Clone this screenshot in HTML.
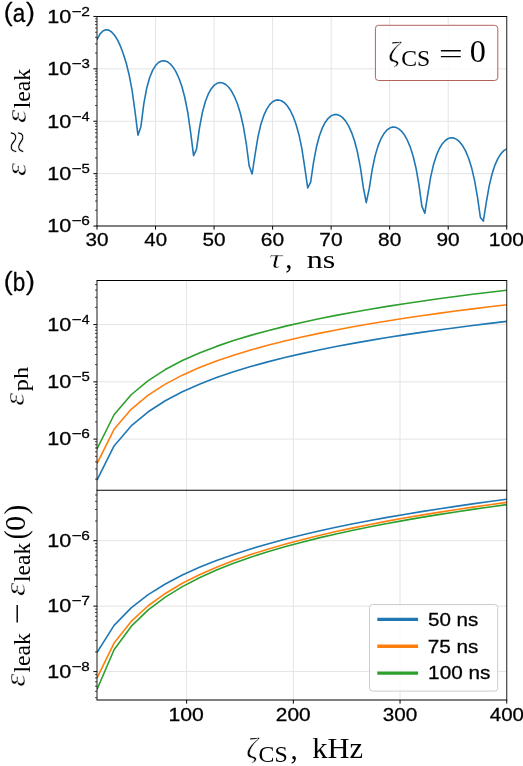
<!DOCTYPE html>
<html lang="en">
<head>
<meta charset="utf-8">
<title>Leakage and phase error figure</title>
<style>
html,body{margin:0;padding:0;background:#ffffff;}
body{width:523px;height:766px;overflow:hidden;font-family:"Liberation Sans",sans-serif;}
svg{display:block;will-change:transform;}
text{white-space:pre;}
</style>
</head>
<body>
<svg width="523" height="766" viewBox="0 0 523 766">
<rect x="0" y="0" width="523" height="766" fill="#ffffff"/>
<defs>
<clipPath id="c1"><rect x="97" y="16.45" width="409.75" height="209.6"/></clipPath>
<clipPath id="c2"><rect x="97" y="280.5" width="409.75" height="209.8"/></clipPath>
<clipPath id="c3"><rect x="97" y="490.3" width="409.75" height="209.7"/></clipPath>
</defs>
<g stroke="#e4e4e4" stroke-width="1" fill="none">
<line x1="155.54" y1="16.45" x2="155.54" y2="226.05"/>
<line x1="214.07" y1="16.45" x2="214.07" y2="226.05"/>
<line x1="272.61" y1="16.45" x2="272.61" y2="226.05"/>
<line x1="331.14" y1="16.45" x2="331.14" y2="226.05"/>
<line x1="389.68" y1="16.45" x2="389.68" y2="226.05"/>
<line x1="448.21" y1="16.45" x2="448.21" y2="226.05"/>
<line x1="97" y1="68.85" x2="506.75" y2="68.85"/>
<line x1="97" y1="121.25" x2="506.75" y2="121.25"/>
<line x1="97" y1="173.65" x2="506.75" y2="173.65"/>
<line x1="186.63" y1="280.5" x2="186.63" y2="700"/>
<line x1="293.34" y1="280.5" x2="293.34" y2="700"/>
<line x1="400.04" y1="280.5" x2="400.04" y2="700"/>
<line x1="97" y1="324.6" x2="506.75" y2="324.6"/>
<line x1="97" y1="381.85" x2="506.75" y2="381.85"/>
<line x1="97" y1="439.1" x2="506.75" y2="439.1"/>
<line x1="97" y1="540.7" x2="506.75" y2="540.7"/>
<line x1="97" y1="606.15" x2="506.75" y2="606.15"/>
<line x1="97" y1="671.6" x2="506.75" y2="671.6"/>
</g>
<g fill="none" stroke-width="1.6" stroke-linejoin="round" stroke-linecap="butt">
<polyline clip-path="url(#c1)" stroke="#1f77b4" points="97,39.7 99.93,34.16 102.85,30.97 105.78,29.69 108.71,30.1 111.63,32.03 114.56,35.26 117.49,39.87 120.41,46.04 123.34,54.04 126.27,63.29 129.19,75.08 132.12,90.58 135.05,111.67 137.97,135.2 140.9,126.67 143.83,103.62 146.76,87.95 149.68,77.49 152.61,70.36 155.54,65.56 158.46,62.54 161.39,60.98 164.32,60.71 167.24,61.66 170.17,63.8 173.1,67.19 176.02,71.94 178.95,78.28 181.88,86.58 184.8,97.5 187.73,112.22 190.66,132.61 193.58,155.7 196.51,149.21 199.44,128.04 202.36,112.5 205.29,101.74 208.22,94.17 211.14,88.89 214.07,85.37 217,83.31 219.93,82.53 222.85,82.94 225.78,84.51 228.71,87.26 231.63,91.29 234.56,96.78 237.49,104.02 240.41,113.53 243.34,126.2 246.27,143.52 249.19,165.98 252.12,174 255.05,154.59 257.97,136.83 260.9,124.3 263.83,115.41 266.75,109.07 269.68,104.66 272.61,101.79 275.53,100.25 278.46,99.91 281.39,100.71 284.31,102.66 287.24,105.8 290.17,110.27 293.09,116.28 296.02,124.2 298.95,134.66 301.88,148.7 304.8,167.78 307.73,188 310.66,182.07 313.58,162.09 316.51,146.68 319.44,135.72 322.36,127.85 325.29,122.21 328.22,118.3 331.14,115.83 334.07,114.62 337,114.57 339.92,115.65 342.85,117.87 345.78,121.31 348.7,126.12 351.63,132.56 354.56,141.05 357.48,152.3 360.41,167.49 363.34,187.63 366.26,202.6 369.19,188.9 372.12,170.03 375.04,156.12 377.97,146.14 380.9,138.93 383.82,133.77 386.75,130.23 389.68,128.05 392.61,127.1 395.53,127.29 398.46,128.61 401.39,131.08 404.31,134.81 407.24,139.97 410.17,146.87 413.09,156 416.02,168.22 418.95,184.89 421.87,206.11 424.8,213.3 427.73,194.72 430.65,177.07 433.58,164.34 436.51,155.16 439.43,148.48 442.36,143.7 445.29,140.46 448.21,138.52 451.14,137.76 454.07,138.12 456.99,139.59 459.92,142.22 462.85,146.1 465.77,151.43 468.7,158.51 471.63,167.86 474.56,180.33 477.48,197.21 480.41,217.51 483.34,221.1 486.26,202.66 489.19,185.9 492.12,173.72 495.04,164.87 497.97,158.42 500.9,153.8 503.82,150.67 506.75,148.83"/>
<g clip-path="url(#c2)">
<polyline stroke="#1f77b4" points="97,480.13 114.07,445.95 131.15,425.95 148.22,411.76 165.29,400.76 182.36,391.76 199.44,384.16 216.51,377.58 233.58,371.77 250.66,366.57 267.73,361.87 284.8,357.58 301.88,353.63 318.95,349.98 336.02,346.57 353.09,343.39 370.17,340.4 387.24,337.58 404.31,334.91 421.39,332.38 438.46,329.98 455.53,327.68 472.6,325.49 489.68,323.39 506.75,321.38"/>
<polyline stroke="#ff7f0e" points="97,463.53 114.07,429.35 131.15,409.35 148.22,395.16 165.29,384.16 182.36,375.16 199.44,367.56 216.51,360.98 233.58,355.17 250.66,349.97 267.73,345.27 284.8,340.98 301.88,337.03 318.95,333.38 336.02,329.97 353.09,326.79 370.17,323.8 387.24,320.98 404.31,318.31 421.39,315.78 438.46,313.38 455.53,311.08 472.6,308.89 489.68,306.79 506.75,304.78"/>
<polyline stroke="#2ca02c" points="97,448.93 114.07,414.75 131.15,394.75 148.22,380.56 165.29,369.56 182.36,360.56 199.44,352.96 216.51,346.38 233.58,340.57 250.66,335.37 267.73,330.67 284.8,326.38 301.88,322.43 318.95,318.78 336.02,315.37 353.09,312.19 370.17,309.2 387.24,306.38 404.31,303.71 421.39,301.18 438.46,298.78 455.53,296.48 472.6,294.29 489.68,292.19 506.75,290.18"/>
</g>
<g clip-path="url(#c3)">
<polyline stroke="#1f77b4" points="97,652.55 114.07,625.4 131.15,607.86 148.22,594.66 165.29,584.01 182.36,575.06 199.44,567.33 216.51,560.52 233.58,554.44 250.66,548.94 267.73,543.91 284.8,539.3 301.88,535.02 318.95,531.04 336.02,527.31 353.09,523.81 370.17,520.51 387.24,517.39 404.31,514.42 421.39,511.6 438.46,508.92 455.53,506.35 472.6,503.89 489.68,501.53 506.75,499.26"/>
<polyline stroke="#ff7f0e" points="97,678.12 114.07,643.03 131.15,621.43 148.22,605.76 165.29,593.45 182.36,583.31 199.44,574.68 216.51,567.18 233.58,560.54 250.66,554.59 267.73,549.19 284.8,544.26 301.88,539.71 318.95,535.49 336.02,531.56 353.09,527.89 370.17,524.43 387.24,521.16 404.31,518.08 421.39,515.14 438.46,512.35 455.53,509.69 472.6,507.15 489.68,504.71 506.75,502.37"/>
<polyline stroke="#2ca02c" points="97,689.54 114.07,649.71 131.15,626.41 148.22,609.88 165.29,597.06 182.36,586.59 199.44,577.73 216.51,570.06 233.58,563.29 250.66,557.24 267.73,551.76 284.8,546.76 301.88,542.16 318.95,537.9 336.02,533.94 353.09,530.23 370.17,526.75 387.24,523.46 404.31,520.36 421.39,517.41 438.46,514.61 455.53,511.93 472.6,509.38 489.68,506.94 506.75,504.59"/>
</g>
</g>
<g stroke="#000000" fill="none">
<line stroke-width="1.0" x1="93.4" y1="16.45" x2="97" y2="16.45"/>
<line stroke-width="1.0" x1="93.4" y1="68.85" x2="97" y2="68.85"/>
<line stroke-width="1.0" x1="93.4" y1="121.25" x2="97" y2="121.25"/>
<line stroke-width="1.0" x1="93.4" y1="173.65" x2="97" y2="173.65"/>
<line stroke-width="1.0" x1="93.4" y1="226.05" x2="97" y2="226.05"/>
<line stroke-width="0.7" x1="95" y1="53.08" x2="97" y2="53.08"/>
<line stroke-width="0.7" x1="95" y1="43.85" x2="97" y2="43.85"/>
<line stroke-width="0.7" x1="95" y1="37.3" x2="97" y2="37.3"/>
<line stroke-width="0.7" x1="95" y1="32.22" x2="97" y2="32.22"/>
<line stroke-width="0.7" x1="95" y1="28.07" x2="97" y2="28.07"/>
<line stroke-width="0.7" x1="95" y1="24.57" x2="97" y2="24.57"/>
<line stroke-width="0.7" x1="95" y1="21.53" x2="97" y2="21.53"/>
<line stroke-width="0.7" x1="95" y1="18.85" x2="97" y2="18.85"/>
<line stroke-width="0.7" x1="95" y1="105.48" x2="97" y2="105.48"/>
<line stroke-width="0.7" x1="95" y1="96.25" x2="97" y2="96.25"/>
<line stroke-width="0.7" x1="95" y1="89.7" x2="97" y2="89.7"/>
<line stroke-width="0.7" x1="95" y1="84.62" x2="97" y2="84.62"/>
<line stroke-width="0.7" x1="95" y1="80.47" x2="97" y2="80.47"/>
<line stroke-width="0.7" x1="95" y1="76.97" x2="97" y2="76.97"/>
<line stroke-width="0.7" x1="95" y1="73.93" x2="97" y2="73.93"/>
<line stroke-width="0.7" x1="95" y1="71.25" x2="97" y2="71.25"/>
<line stroke-width="0.7" x1="95" y1="157.88" x2="97" y2="157.88"/>
<line stroke-width="0.7" x1="95" y1="148.65" x2="97" y2="148.65"/>
<line stroke-width="0.7" x1="95" y1="142.1" x2="97" y2="142.1"/>
<line stroke-width="0.7" x1="95" y1="137.02" x2="97" y2="137.02"/>
<line stroke-width="0.7" x1="95" y1="132.87" x2="97" y2="132.87"/>
<line stroke-width="0.7" x1="95" y1="129.37" x2="97" y2="129.37"/>
<line stroke-width="0.7" x1="95" y1="126.33" x2="97" y2="126.33"/>
<line stroke-width="0.7" x1="95" y1="123.65" x2="97" y2="123.65"/>
<line stroke-width="0.7" x1="95" y1="210.28" x2="97" y2="210.28"/>
<line stroke-width="0.7" x1="95" y1="201.05" x2="97" y2="201.05"/>
<line stroke-width="0.7" x1="95" y1="194.5" x2="97" y2="194.5"/>
<line stroke-width="0.7" x1="95" y1="189.42" x2="97" y2="189.42"/>
<line stroke-width="0.7" x1="95" y1="185.27" x2="97" y2="185.27"/>
<line stroke-width="0.7" x1="95" y1="181.77" x2="97" y2="181.77"/>
<line stroke-width="0.7" x1="95" y1="178.73" x2="97" y2="178.73"/>
<line stroke-width="0.7" x1="95" y1="176.05" x2="97" y2="176.05"/>
<line stroke-width="1.0" x1="97" y1="226.05" x2="97" y2="229.65"/>
<line stroke-width="1.0" x1="155.54" y1="226.05" x2="155.54" y2="229.65"/>
<line stroke-width="1.0" x1="214.07" y1="226.05" x2="214.07" y2="229.65"/>
<line stroke-width="1.0" x1="272.61" y1="226.05" x2="272.61" y2="229.65"/>
<line stroke-width="1.0" x1="331.14" y1="226.05" x2="331.14" y2="229.65"/>
<line stroke-width="1.0" x1="389.68" y1="226.05" x2="389.68" y2="229.65"/>
<line stroke-width="1.0" x1="448.21" y1="226.05" x2="448.21" y2="229.65"/>
<line stroke-width="1.0" x1="506.75" y1="226.05" x2="506.75" y2="229.65"/>
<line stroke-width="1.0" x1="93.4" y1="324.6" x2="97" y2="324.6"/>
<line stroke-width="1.0" x1="93.4" y1="381.85" x2="97" y2="381.85"/>
<line stroke-width="1.0" x1="93.4" y1="439.1" x2="97" y2="439.1"/>
<line stroke-width="0.7" x1="95" y1="479.12" x2="97" y2="479.12"/>
<line stroke-width="0.7" x1="95" y1="469.03" x2="97" y2="469.03"/>
<line stroke-width="0.7" x1="95" y1="461.88" x2="97" y2="461.88"/>
<line stroke-width="0.7" x1="95" y1="456.33" x2="97" y2="456.33"/>
<line stroke-width="0.7" x1="95" y1="451.8" x2="97" y2="451.8"/>
<line stroke-width="0.7" x1="95" y1="447.97" x2="97" y2="447.97"/>
<line stroke-width="0.7" x1="95" y1="444.65" x2="97" y2="444.65"/>
<line stroke-width="0.7" x1="95" y1="441.72" x2="97" y2="441.72"/>
<line stroke-width="0.7" x1="95" y1="421.87" x2="97" y2="421.87"/>
<line stroke-width="0.7" x1="95" y1="411.78" x2="97" y2="411.78"/>
<line stroke-width="0.7" x1="95" y1="404.63" x2="97" y2="404.63"/>
<line stroke-width="0.7" x1="95" y1="399.08" x2="97" y2="399.08"/>
<line stroke-width="0.7" x1="95" y1="394.55" x2="97" y2="394.55"/>
<line stroke-width="0.7" x1="95" y1="390.72" x2="97" y2="390.72"/>
<line stroke-width="0.7" x1="95" y1="387.4" x2="97" y2="387.4"/>
<line stroke-width="0.7" x1="95" y1="384.47" x2="97" y2="384.47"/>
<line stroke-width="0.7" x1="95" y1="364.62" x2="97" y2="364.62"/>
<line stroke-width="0.7" x1="95" y1="354.53" x2="97" y2="354.53"/>
<line stroke-width="0.7" x1="95" y1="347.38" x2="97" y2="347.38"/>
<line stroke-width="0.7" x1="95" y1="341.83" x2="97" y2="341.83"/>
<line stroke-width="0.7" x1="95" y1="337.3" x2="97" y2="337.3"/>
<line stroke-width="0.7" x1="95" y1="333.47" x2="97" y2="333.47"/>
<line stroke-width="0.7" x1="95" y1="330.15" x2="97" y2="330.15"/>
<line stroke-width="0.7" x1="95" y1="327.22" x2="97" y2="327.22"/>
<line stroke-width="0.7" x1="95" y1="307.37" x2="97" y2="307.37"/>
<line stroke-width="0.7" x1="95" y1="297.28" x2="97" y2="297.28"/>
<line stroke-width="0.7" x1="95" y1="290.13" x2="97" y2="290.13"/>
<line stroke-width="0.7" x1="95" y1="284.58" x2="97" y2="284.58"/>
<line stroke-width="1.0" x1="93.4" y1="540.7" x2="97" y2="540.7"/>
<line stroke-width="1.0" x1="93.4" y1="606.15" x2="97" y2="606.15"/>
<line stroke-width="1.0" x1="93.4" y1="671.6" x2="97" y2="671.6"/>
<line stroke-width="0.7" x1="95" y1="697.65" x2="97" y2="697.65"/>
<line stroke-width="0.7" x1="95" y1="691.3" x2="97" y2="691.3"/>
<line stroke-width="0.7" x1="95" y1="686.12" x2="97" y2="686.12"/>
<line stroke-width="0.7" x1="95" y1="681.74" x2="97" y2="681.74"/>
<line stroke-width="0.7" x1="95" y1="677.94" x2="97" y2="677.94"/>
<line stroke-width="0.7" x1="95" y1="674.59" x2="97" y2="674.59"/>
<line stroke-width="0.7" x1="95" y1="651.9" x2="97" y2="651.9"/>
<line stroke-width="0.7" x1="95" y1="640.37" x2="97" y2="640.37"/>
<line stroke-width="0.7" x1="95" y1="632.2" x2="97" y2="632.2"/>
<line stroke-width="0.7" x1="95" y1="625.85" x2="97" y2="625.85"/>
<line stroke-width="0.7" x1="95" y1="620.67" x2="97" y2="620.67"/>
<line stroke-width="0.7" x1="95" y1="616.29" x2="97" y2="616.29"/>
<line stroke-width="0.7" x1="95" y1="612.49" x2="97" y2="612.49"/>
<line stroke-width="0.7" x1="95" y1="609.14" x2="97" y2="609.14"/>
<line stroke-width="0.7" x1="95" y1="586.45" x2="97" y2="586.45"/>
<line stroke-width="0.7" x1="95" y1="574.92" x2="97" y2="574.92"/>
<line stroke-width="0.7" x1="95" y1="566.75" x2="97" y2="566.75"/>
<line stroke-width="0.7" x1="95" y1="560.4" x2="97" y2="560.4"/>
<line stroke-width="0.7" x1="95" y1="555.22" x2="97" y2="555.22"/>
<line stroke-width="0.7" x1="95" y1="550.84" x2="97" y2="550.84"/>
<line stroke-width="0.7" x1="95" y1="547.04" x2="97" y2="547.04"/>
<line stroke-width="0.7" x1="95" y1="543.69" x2="97" y2="543.69"/>
<line stroke-width="0.7" x1="95" y1="521" x2="97" y2="521"/>
<line stroke-width="0.7" x1="95" y1="509.47" x2="97" y2="509.47"/>
<line stroke-width="0.7" x1="95" y1="501.3" x2="97" y2="501.3"/>
<line stroke-width="0.7" x1="95" y1="494.95" x2="97" y2="494.95"/>
<line stroke-width="1.0" x1="186.63" y1="700" x2="186.63" y2="703.6"/>
<line stroke-width="1.0" x1="293.34" y1="700" x2="293.34" y2="703.6"/>
<line stroke-width="1.0" x1="400.04" y1="700" x2="400.04" y2="703.6"/>
<line stroke-width="1.0" x1="506.75" y1="700" x2="506.75" y2="703.6"/>
</g>
<g stroke="#000000" fill="none" stroke-linecap="butt">
<line stroke-width="1.1" x1="96.55" y1="16.45" x2="507.2" y2="16.45"/>
<line stroke-width="1.1" x1="96.55" y1="226.05" x2="507.2" y2="226.05"/>
<line stroke-width="1.1" x1="96.55" y1="280.5" x2="507.2" y2="280.5"/>
<line stroke-width="1.1" x1="96.55" y1="490.3" x2="507.2" y2="490.3"/>
<line stroke-width="1.1" x1="96.55" y1="700" x2="507.2" y2="700"/>
<line stroke-width="0.9" x1="97" y1="16.45" x2="97" y2="226.05"/>
<line stroke-width="0.9" x1="97" y1="280.5" x2="97" y2="700"/>
<line stroke-width="0.9" x1="506.75" y1="16.45" x2="506.75" y2="226.05"/>
<line stroke-width="0.9" x1="506.75" y1="280.5" x2="506.75" y2="700"/>
</g>
<g fill="#000000" stroke="#000000" stroke-width="0.28" style="font-family:'Liberation Sans',sans-serif">
<text x="3.8" y="20.8" font-size="26.6">(</text>
<text x="12.8" y="21.6" font-size="26" textLength="12.5" lengthAdjust="spacingAndGlyphs">a</text>
<text x="25.9" y="20.8" font-size="26.6">)</text>
<text x="3.8" y="290" font-size="26.6">(</text>
<text x="12.8" y="290.8" font-size="26" textLength="12.5" lengthAdjust="spacingAndGlyphs">b</text>
<text x="25.9" y="290" font-size="26.6">)</text>
<text x="47.26" y="22.7" font-size="18.4" textLength="23.98" lengthAdjust="spacingAndGlyphs">10</text>
<text x="71.67" y="15.7" font-size="12.9" textLength="9.86" lengthAdjust="spacingAndGlyphs">−</text>
<text x="81.22" y="15.7" font-size="12.9" textLength="8.67" lengthAdjust="spacingAndGlyphs">2</text>
<text x="47.26" y="75.1" font-size="18.4" textLength="23.98" lengthAdjust="spacingAndGlyphs">10</text>
<text x="71.67" y="68.1" font-size="12.9" textLength="9.86" lengthAdjust="spacingAndGlyphs">−</text>
<text x="81.43" y="68.1" font-size="12.9" textLength="8.33" lengthAdjust="spacingAndGlyphs">3</text>
<text x="47.26" y="127.5" font-size="18.4" textLength="23.98" lengthAdjust="spacingAndGlyphs">10</text>
<text x="71.67" y="120.5" font-size="12.9" textLength="9.86" lengthAdjust="spacingAndGlyphs">−</text>
<text x="81.68" y="120.5" font-size="12.9" textLength="7.84" lengthAdjust="spacingAndGlyphs">4</text>
<text x="47.26" y="179.9" font-size="18.4" textLength="23.98" lengthAdjust="spacingAndGlyphs">10</text>
<text x="71.67" y="172.9" font-size="12.9" textLength="9.86" lengthAdjust="spacingAndGlyphs">−</text>
<text x="81.4" y="172.9" font-size="12.9" textLength="8.33" lengthAdjust="spacingAndGlyphs">5</text>
<text x="47.26" y="232.3" font-size="18.4" textLength="23.98" lengthAdjust="spacingAndGlyphs">10</text>
<text x="71.67" y="225.3" font-size="12.9" textLength="9.86" lengthAdjust="spacingAndGlyphs">−</text>
<text x="81.22" y="225.3" font-size="12.9" textLength="8.56" lengthAdjust="spacingAndGlyphs">6</text>
<text x="47.26" y="330.85" font-size="18.4" textLength="23.98" lengthAdjust="spacingAndGlyphs">10</text>
<text x="71.67" y="323.85" font-size="12.9" textLength="9.86" lengthAdjust="spacingAndGlyphs">−</text>
<text x="81.68" y="323.85" font-size="12.9" textLength="7.84" lengthAdjust="spacingAndGlyphs">4</text>
<text x="47.26" y="388.1" font-size="18.4" textLength="23.98" lengthAdjust="spacingAndGlyphs">10</text>
<text x="71.67" y="381.1" font-size="12.9" textLength="9.86" lengthAdjust="spacingAndGlyphs">−</text>
<text x="81.4" y="381.1" font-size="12.9" textLength="8.33" lengthAdjust="spacingAndGlyphs">5</text>
<text x="47.26" y="445.35" font-size="18.4" textLength="23.98" lengthAdjust="spacingAndGlyphs">10</text>
<text x="71.67" y="438.35" font-size="12.9" textLength="9.86" lengthAdjust="spacingAndGlyphs">−</text>
<text x="81.22" y="438.35" font-size="12.9" textLength="8.56" lengthAdjust="spacingAndGlyphs">6</text>
<text x="47.26" y="546.95" font-size="18.4" textLength="23.98" lengthAdjust="spacingAndGlyphs">10</text>
<text x="71.67" y="539.95" font-size="12.9" textLength="9.86" lengthAdjust="spacingAndGlyphs">−</text>
<text x="81.22" y="539.95" font-size="12.9" textLength="8.56" lengthAdjust="spacingAndGlyphs">6</text>
<text x="47.26" y="612.4" font-size="18.4" textLength="23.98" lengthAdjust="spacingAndGlyphs">10</text>
<text x="71.67" y="605.4" font-size="12.9" textLength="9.86" lengthAdjust="spacingAndGlyphs">−</text>
<text x="81.2" y="605.4" font-size="12.9" textLength="8.69" lengthAdjust="spacingAndGlyphs">7</text>
<text x="47.26" y="677.85" font-size="18.4" textLength="23.98" lengthAdjust="spacingAndGlyphs">10</text>
<text x="71.67" y="670.85" font-size="12.9" textLength="9.86" lengthAdjust="spacingAndGlyphs">−</text>
<text x="81.34" y="670.85" font-size="12.9" textLength="8.42" lengthAdjust="spacingAndGlyphs">8</text>
<text x="85.51" y="246.3" font-size="18.4" textLength="22.99" lengthAdjust="spacingAndGlyphs">30</text>
<text x="144.37" y="246.3" font-size="18.4" textLength="22.66" lengthAdjust="spacingAndGlyphs">40</text>
<text x="202.54" y="246.3" font-size="18.4" textLength="23.04" lengthAdjust="spacingAndGlyphs">50</text>
<text x="260.84" y="246.3" font-size="18.4" textLength="23.28" lengthAdjust="spacingAndGlyphs">60</text>
<text x="319.37" y="246.3" font-size="18.4" textLength="23.29" lengthAdjust="spacingAndGlyphs">70</text>
<text x="378.08" y="246.3" font-size="18.4" textLength="23.11" lengthAdjust="spacingAndGlyphs">80</text>
<text x="436.54" y="246.3" font-size="18.4" textLength="23.19" lengthAdjust="spacingAndGlyphs">90</text>
<text x="488.69" y="246.3" font-size="18.4" textLength="35.34" lengthAdjust="spacingAndGlyphs">100</text>
<text x="168.57" y="720.5" font-size="18.4" textLength="35.34" lengthAdjust="spacingAndGlyphs">100</text>
<text x="275.84" y="720.5" font-size="18.4" textLength="34.76" lengthAdjust="spacingAndGlyphs">200</text>
<text x="382.81" y="720.5" font-size="18.4" textLength="34.5" lengthAdjust="spacingAndGlyphs">300</text>
<text x="489.83" y="720.5" font-size="18.4" textLength="34.17" lengthAdjust="spacingAndGlyphs">400</text>
</g>
<rect x="369.5" y="604.5" width="128.2" height="86.6" rx="3" ry="3" fill="#ffffff" fill-opacity="0.8" stroke="#cccccc" stroke-width="1"/>
<line x1="377.3" y1="619.4" x2="418.1" y2="619.4" stroke="#1f77b4" stroke-width="3.4"/>
<line x1="377.3" y1="646.3" x2="418.1" y2="646.3" stroke="#ff7f0e" stroke-width="3.4"/>
<line x1="377.3" y1="673.1" x2="418.1" y2="673.1" stroke="#2ca02c" stroke-width="3.4"/>
<g fill="#000000" stroke="#000000" stroke-width="0.28" style="font-family:'Liberation Sans',sans-serif">
<text x="427.98" y="625.7" font-size="18.4" textLength="50.37" lengthAdjust="spacingAndGlyphs">50 ns</text>
<text x="427.74" y="652.6" font-size="18.4" textLength="50.61" lengthAdjust="spacingAndGlyphs">75 ns</text>
<text x="428.12" y="679.4" font-size="18.4" textLength="62.23" lengthAdjust="spacingAndGlyphs">100 ns</text>
</g>
<rect x="375.4" y="25.3" width="122.4" height="55.2" rx="3.2" ry="3.2" fill="#ffffff" fill-opacity="0.82" stroke="#b5625c" stroke-width="1"/>
<g fill="#000000" style="font-family:'Liberation Serif',serif">
<text x="388.15" y="62.3" font-size="30" font-style="italic" stroke="#ffffff" stroke-width="0.45" textLength="11.9" lengthAdjust="spacingAndGlyphs">ζ</text>
<text x="401.23" y="66.3" font-size="23" textLength="28.94" lengthAdjust="spacingAndGlyphs">CS</text>
<text x="438.67" y="63" font-size="27" textLength="24.12" lengthAdjust="spacingAndGlyphs">=</text>
<text x="469.77" y="62.15" font-size="30.6" textLength="16.16" lengthAdjust="spacingAndGlyphs">0</text>
<text x="268.76" y="268" font-size="26.5" font-style="italic" stroke="#ffffff" stroke-width="0.55" textLength="13.68" lengthAdjust="spacingAndGlyphs">τ</text>
<text x="285.2" y="268.3" font-size="29" textLength="7.22" lengthAdjust="spacingAndGlyphs">,</text>
<text x="306.66" y="268" font-size="26" textLength="28.6" lengthAdjust="spacingAndGlyphs">ns</text>
<text x="246.27" y="758.3" font-size="30" font-style="italic" stroke="#ffffff" stroke-width="0.45" textLength="11.71" lengthAdjust="spacingAndGlyphs">ζ</text>
<text x="258.62" y="762.2" font-size="23" textLength="29.16" lengthAdjust="spacingAndGlyphs">CS</text>
<text x="290.5" y="758.8" font-size="29" textLength="7.22" lengthAdjust="spacingAndGlyphs">,</text>
<text x="312.32" y="757.9" font-size="30.2" textLength="50.73" lengthAdjust="spacingAndGlyphs">kHz</text>
<g transform="translate(25.5,0) rotate(-90)">
<text x="-176.12" y="0" font-size="29.5" font-style="italic" stroke="#ffffff" stroke-width="0.45" textLength="13.15" lengthAdjust="spacingAndGlyphs">ε</text>
<text x="-153.7" y="3.5" font-size="36" stroke="#ffffff" stroke-width="0.6" textLength="23.68" lengthAdjust="spacingAndGlyphs">≈</text>
<text x="-123.02" y="0" font-size="29.5" font-style="italic" stroke="#ffffff" stroke-width="0.45" textLength="13.26" lengthAdjust="spacingAndGlyphs">ε</text>
<text x="-108.38" y="4.55" font-size="22.3" textLength="39.58" lengthAdjust="spacingAndGlyphs">leak</text>
</g>
<g transform="translate(24,0) rotate(-90)">
<text x="-405.81" y="0" font-size="29.5" font-style="italic" stroke="#ffffff" stroke-width="0.45" textLength="12.94" lengthAdjust="spacingAndGlyphs">ε</text>
<text x="-391.29" y="3.8" font-size="22" textLength="24.42" lengthAdjust="spacingAndGlyphs">ph</text>
</g>
<g transform="translate(24.6,0) rotate(-90)">
<text x="-686.82" y="0" font-size="29.5" font-style="italic" stroke="#ffffff" stroke-width="0.45" textLength="13.15" lengthAdjust="spacingAndGlyphs">ε</text>
<text x="-672.58" y="5.6" font-size="22.3" textLength="39.58" lengthAdjust="spacingAndGlyphs">leak</text>
<text x="-624.06" y="2.55" font-size="30" textLength="21.09" lengthAdjust="spacingAndGlyphs">−</text>
<text x="-595.93" y="0" font-size="29.5" font-style="italic" stroke="#ffffff" stroke-width="0.45" textLength="13.36" lengthAdjust="spacingAndGlyphs">ε</text>
<text x="-581.97" y="5.6" font-size="22.3" textLength="39.17" lengthAdjust="spacingAndGlyphs">leak</text>
<text x="-539.16" y="1" font-size="32.5" textLength="8.82" lengthAdjust="spacingAndGlyphs">(</text>
<text x="-531.06" y="-0.1" font-size="28.5" textLength="15.22" lengthAdjust="spacingAndGlyphs">0</text>
<text x="-514.54" y="1" font-size="32.5" textLength="9.72" lengthAdjust="spacingAndGlyphs">)</text>
</g>
</g>
</svg>
</body>
</html>
